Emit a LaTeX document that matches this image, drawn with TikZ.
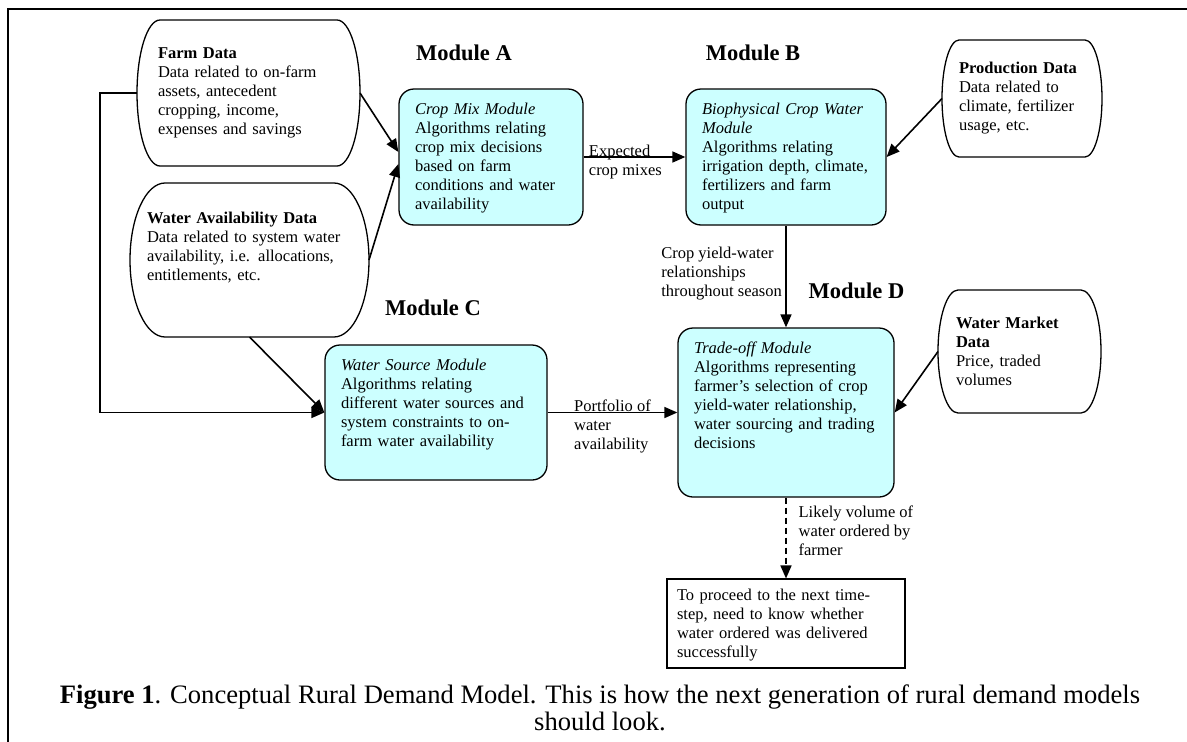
\documentclass[tikz,border=0pt]{standalone}
\usepackage{fontspec}
\setmainfont{Liberation Serif}
\usetikzlibrary{arrows.meta,calc}

\definecolor{modfill}{HTML}{CCFFFF}
\newcommand{\bodysize}{\fontsize{16.5}{19}\selectfont}
% data outline: flat top and bottom, elliptic sides (node, x radius)
\newcommand{\dataoutline}[2]{%
  \draw[line width=1.3pt] ([xshift=#2]#1.north west) -- ([xshift=-#2]#1.north east)
    .. controls ($([xshift=-#2]#1.north east)!0.552!(#1.north east)$) and ($(#1.east)!0.552!(#1.north east)$) .. (#1.east)
    .. controls ($(#1.east)!0.552!(#1.south east)$) and ($([xshift=-#2]#1.south east)!0.552!(#1.south east)$) .. ([xshift=-#2]#1.south east)
    -- ([xshift=#2]#1.south west)
    .. controls ($([xshift=#2]#1.south west)!0.552!(#1.south west)$) and ($(#1.west)!0.552!(#1.south west)$) .. (#1.west)
    .. controls ($(#1.west)!0.552!(#1.north west)$) and ($([xshift=#2]#1.north west)!0.552!(#1.north west)$) .. cycle;}

\tikzset{
  >={Triangle[length=13pt,width=11pt]},
  data/.style={inner xsep=0pt, inner ysep=0pt, outer sep=0pt, align=left, font=\bodysize},
  module/.style={draw, line width=1.3pt, fill=modfill, rounded corners=15pt,
    inner xsep=16pt, inner ysep=13pt, text height=12pt, align=left, font=\bodysize},
  stepbox/.style={draw, line width=1.1pt, inner xsep=10pt, inner ysep=9.5pt,
    text height=12pt, align=left, font=\bodysize},
  modtitle/.style={font=\fontsize{22.5}{27}\selectfont\bfseries},
  lbl/.style={align=left, font=\bodysize},
  flow/.style={->, line width=1.6pt},
}

\begin{document}
\begin{tikzpicture}[x=1pt,y=-1pt]
                \useasboundingbox (0,0) rectangle (1187,742);
                \draw[line width=1.6pt] (8,742) -- (8,9) -- (1187,9);

                \node[data, text width=181pt, minimum width=223pt, minimum height=146pt] (fd) at (248.5,93) {\textbf{Farm Data}\\Data related to on-farm\\assets, antecedent\\cropping, income,\\expenses and savings};
                \node[data, text width=205pt, minimum width=239pt, minimum height=154pt, text height=12pt, text depth=85pt] (wad) at (249.5,260) {\textbf{Water Availability Data}\\Data related to system water\\availability, i.e. allocations,\\entitlements, etc.};
                \node[data, text width=126pt, minimum width=160pt, minimum height=117pt] (pd) at (1022,98.5) {\textbf{Production Data}\\Data related to\\climate, fertilizer\\usage, etc.};
                \node[data, text width=127pt, minimum width=163pt, minimum height=123pt] (wmd) at (1019.5,351.5) {\textbf{Water Market}\\\textbf{Data}\\Price, traded\\volumes};
                \dataoutline{fd}{23pt}
                \dataoutline{wad}{35pt}
                \dataoutline{pd}{17pt}
                \dataoutline{wmd}{20pt}

                \node[modtitle] (ma) at (464,53) {Module A};
                \node[modtitle] (mb) at (753,53) {Module B};
                \node[modtitle] (mc) at (433,308) {Module C};
                \node[modtitle] (md) at (856.5,291) {Module D};

                \node[module, text width=152pt, text depth=98pt] (cmm) at (491,157) {\emph{Crop Mix Module}\\Algorithms relating\\crop mix decisions\\based on farm\\conditions and water\\availability};
                \node[module, text width=168pt, text depth=98pt] (bcw) at (786,157) {\emph{Biophysical Crop Water}\\\emph{Module}\\Algorithms relating\\irrigation depth, climate,\\fertilizers and farm\\output};
                \node[module, text width=190pt, text depth=97pt] (wsm) at (436,412.5) {\emph{Water Source Module}\\Algorithms relating\\different water sources and\\system constraints to on-\\farm water availability};
                \node[module, text width=184pt, text depth=131pt] (tom) at (786,412.5) {\emph{Trade-off Module}\\Algorithms representing\\farmer's selection of crop\\yield-water relationship,\\water sourcing and trading\\decisions};
                \node[stepbox, text width=218pt, text depth=58pt] (nxt) at (786,623.5) {To proceed to the next time-\\step, need to know whether\\water ordered was delivered\\successfully};

                \node[align=center, font=\fontsize{26.6}{27}\selectfont] (cap) at (600,708) {\textbf{Figure 1}. Conceptual Rural Demand Model. This is how the next generation of rural demand models\\should look.};

                \draw[flow] (fd.east) to ([yshift=5pt]cmm.west);
                \draw[flow] (wad.east) to ([yshift=-7pt]cmm.west);
                \draw[flow] (fd.west) -- ++(-37,0) |- (wsm.west);
                \draw[flow] (wad.south) to (wsm.west);
                \draw[flow] (cmm) to node[lbl, pos=0.41, yshift=-5.5pt] {Expected\\crop mixes} (bcw);
                \draw[flow] (pd.west) to (bcw.east);
                \draw[flow] (bcw) to node[lbl, left, yshift=3pt] {Crop yield-water\\relationships\\throughout season} (tom);
                \draw[flow] (wsm) to node[lbl, midway, yshift=-14pt] {Portfolio of\\water\\availability} (tom);
                \draw[flow] (wmd.west) to (tom.east);
                \draw[flow, dash pattern=on 6pt off 4pt] (tom) to node[lbl, right, xshift=8.5pt, yshift=7pt] {Likely volume of\\water ordered by\\farmer} (nxt);
            \end{tikzpicture}
\end{document}
